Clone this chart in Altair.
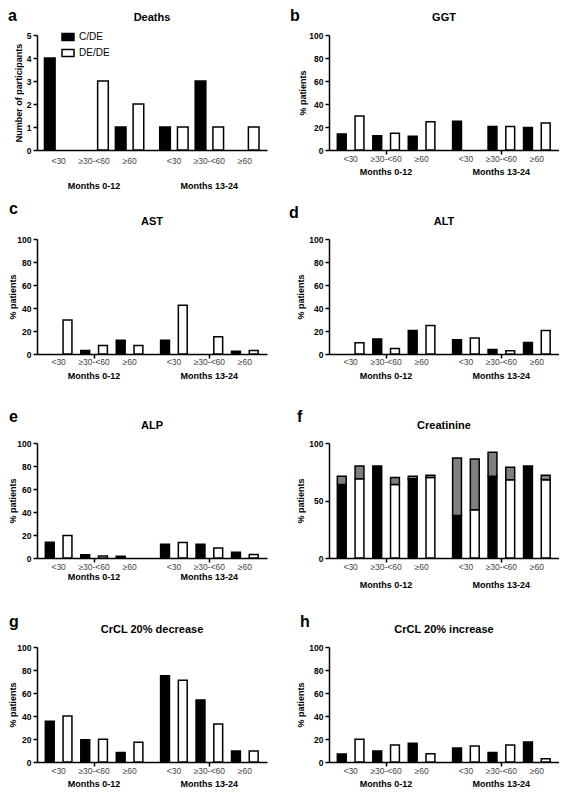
import altair as alt
import pandas as pd

FONT = "Liberation Sans"

groups = ["C/DE", "DE/DE"]
periods = ["Months 0-12", "Months 13-24"]
crcl_cats = ["<30", "≥30-<60", "≥60"]

# values per (period x CrCL category): M0-12 <30, ≥30-<60, ≥60, M13-24 <30, ≥30-<60, ≥60
deaths_cde = [4, 0, 1, 1, 3, 0]
deaths_dede = [0, 3, 2, 1, 1, 1]
ggt_cde = [14, 12.5, 12, 25, 20.5, 19.5]
ggt_dede = [29.5, 14.5, 24.5, 0, 20.5, 23.5]
ast_cde = [0, 3, 12, 12, 0, 2.3]
ast_dede = [29.5, 7.3, 7.3, 42.5, 15, 3]
alt_cde = [0, 13, 20.5, 12.5, 4, 10]
alt_dede = [9.8, 4.7, 24.7, 14, 2.8, 20.5]
alp_cde = [13.8, 2.8, 1.6, 12, 12, 5]
alp_dede = [19.5, 1.8, 0, 13.5, 8.8, 3]
creat_cde_solid = [64, 80, 69, 37, 71, 80]
creat_cde_total = [71, 80, 71, 87, 92, 80]
creat_dede_solid = [69, 64, 70, 42, 68, 68]
creat_dede_total = [80, 70, 72, 86, 79, 72]
dec_cde = [35.5, 19.3, 8.2, 75, 54, 9.6]
dec_dede = [40, 19.8, 17.2, 71, 33, 9.6]
inc_cde = [7, 9.6, 16.4, 12.2, 8.2, 17.3]
inc_dede = [19.8, 14.7, 7.1, 13.9, 14.7, 2.8]

# slot layout of the categorical axis
pair_start = [0, 2, 4, 6.5, 8.5, 10.5]
period_center = [2.5, 9]
X_DOMAIN = [-0.72, 12.25]
W, H = 230, 115
COLORS = {"C/DE": "black", "DE/DE": "white"}


def bar_frame(cde, dede, hw, cde_solid=None, dede_solid=None):
    rows = []
    for k in range(6):
        for gi, (g, vals, solids) in enumerate(
            [("C/DE", cde, cde_solid), ("DE/DE", dede, dede_solid)]
        ):
            v = vals[k]
            top = v if solids is None else solids[k]
            if top <= 0:
                continue
            c = pair_start[k] + gi
            rows.append(dict(group=g, x0=c - hw, x1=c + hw, lo=0, hi=top,
                             fillc=COLORS[g]))
    return pd.DataFrame(rows)


def checker_frame(cde_solid, cde_total, dede_solid, dede_total, hw):
    rows = []
    for k in range(6):
        for gi, (s, t) in enumerate([(cde_solid, cde_total), (dede_solid, dede_total)]):
            if t[k] > s[k]:
                c = pair_start[k] + gi
                rows.append(dict(x0=c - hw, x1=c + hw, lo=s[k], hi=t[k]))
    return pd.DataFrame(rows)


def panel(letter, title, cde, dede, ytitle="% patients", ydomain=(0, 100),
          yvalues=(0, 20, 40, 60, 80, 100), hw=0.25, letter_x=-28, letter_y=-21,
          title_y=-14, tick_dy=9, group_dy=22, y_extent=17, y_tpad=3,
          xtick=4, legend=False, creat=None):
    xsc = alt.Scale(domain=X_DOMAIN, nice=False, zero=False)
    xax = alt.Axis(title=None, values=period_center, labels=False, grid=False,
                   tickSize=xtick, tickColor="black", tickWidth=1.5,
                   domainColor="black", domainWidth=1.5)
    yax = alt.Axis(title=ytitle, values=list(yvalues), grid=False,
                   tickSize=4, tickColor="black", tickWidth=1.5,
                   domainColor="black", domainWidth=1.5,
                   labelFont=FONT, labelFontSize=8.5, labelFontWeight="bold",
                   labelColor="black", labelPadding=2,
                   titleFont=FONT, titleFontSize=9, titleFontWeight="bold",
                   titleColor="black", titlePadding=y_tpad,
                   minExtent=y_extent, maxExtent=y_extent)
    ysc = alt.Scale(domain=list(ydomain), nice=False)

    if creat is None:
        df = bar_frame(cde, dede, hw)
    else:
        df = bar_frame(creat[1], creat[3], hw, creat[0], creat[2])

    if legend:
        fill = alt.Fill("group:N",
                        scale=alt.Scale(domain=groups, range=["black", "white"]),
                        legend=alt.Legend(orient="none", legendX=24, legendY=-5,
                                          direction="vertical", title=None,
                                          symbolType="M-1,-0.58H1V0.58H-1Z",
                                          symbolSize=144, symbolStrokeColor="black",
                                          symbolStrokeWidth=1.5, labelFont=FONT,
                                          labelFontSize=10, labelColor="black",
                                          rowPadding=2, labelOffset=4, padding=0))
    else:
        fill = alt.Fill("fillc:N", scale=None)

    layers = [
        alt.Chart(df).mark_bar(stroke="black", strokeWidth=1.5).encode(
            x=alt.X("x0:Q", scale=xsc, axis=xax),
            x2="x1:Q",
            y=alt.Y("lo:Q", scale=ysc, axis=yax),
            y2="hi:Q",
            fill=fill,
        )
    ]
    if creat is not None:
        cdf = checker_frame(*creat, hw)
        layers.append(
            alt.Chart(cdf).mark_bar(stroke="black", strokeWidth=1.5, fill="#7f7f7f").encode(
                x=alt.X("x0:Q", scale=xsc, axis=xax),
                x2="x1:Q",
                y=alt.Y("lo:Q", scale=ysc, axis=yax),
                y2="hi:Q",
            )
        )

    tdf = pd.DataFrame({
        "pos": [p + 0.5 for p in pair_start],
        "label": crcl_cats * 2,
    })
    layers.append(
        alt.Chart(tdf).mark_text(font=FONT, fontSize=8.5, color="#444444",
                                 baseline="middle").encode(
            x=alt.X("pos:Q", scale=xsc, axis=xax),
            y=alt.value(H + tick_dy),
            text="label:N",
        )
    )
    gdf = pd.DataFrame({"pos": period_center, "label": periods})
    layers.append(
        alt.Chart(gdf).mark_text(font=FONT, fontSize=9, fontWeight="bold",
                                 color="black", baseline="middle").encode(
            x=alt.X("pos:Q", scale=xsc, axis=xax),
            y=alt.value(H + group_dy),
            text="label:N",
        )
    )
    layers.append(
        alt.Chart(pd.DataFrame({"t": [title]})).mark_text(
            font=FONT, fontSize=11, fontWeight="bold", color="black",
            baseline="alphabetic").encode(
            x=alt.value(W / 2), y=alt.value(title_y), text="t:N")
    )
    layers.append(
        alt.Chart(pd.DataFrame({"t": [letter]})).mark_text(
            font=FONT, fontSize=16, fontWeight="bold", color="black",
            align="left", baseline="alphabetic").encode(
            x=alt.value(letter_x), y=alt.value(letter_y), text="t:N")
    )
    return alt.layer(*layers).properties(width=W, height=H)


pa = panel("a", "Deaths", deaths_cde, deaths_dede, ytitle="Number of participants",
           ydomain=(0, 5), yvalues=(0, 1, 2, 3, 4, 5), hw=0.3, letter_x=-29,
           letter_y=-14, tick_dy=11, group_dy=36, y_extent=11, y_tpad=3,
           xtick=0, legend=True)
pb = panel("b", "GGT", ggt_cde, ggt_dede, letter_x=-39, letter_y=-14,
           y_extent=17, y_tpad=5)
pc = panel("c", "AST", ast_cde, ast_dede, letter_y=-25, tick_dy=8)
pd_ = panel("d", "ALT", alt_cde, alt_dede, letter_x=-40, tick_dy=8, y_tpad=7)
pe = panel("e", "ALP", alp_cde, alp_dede, group_dy=19)
pf = panel("f", "Creatinine", None, None, yvalues=(0, 50, 100), letter_x=-32,
           group_dy=27, y_tpad=7,
           creat=(creat_cde_solid, creat_cde_total, creat_dede_solid, creat_dede_total))
pg = panel("g", "CrCL 20% decrease", dec_cde, dec_dede, letter_y=-20)
ph = panel("h", "CrCL 20% increase", inc_cde, inc_dede, letter_x=-29,
           letter_y=-20, y_tpad=7)

chart = (
    alt.concat(pa, pb, pc, pd_, pe, pf, pg, ph, columns=2,
               spacing={"row": 89, "column": 62}, bounds="flush")
    .resolve_scale(fill="independent")
    .properties(padding=0, background="white")
    .configure_view(strokeWidth=0)
)

chart.save("out.html", embed_options={"renderer": "svg", "actions": False})
